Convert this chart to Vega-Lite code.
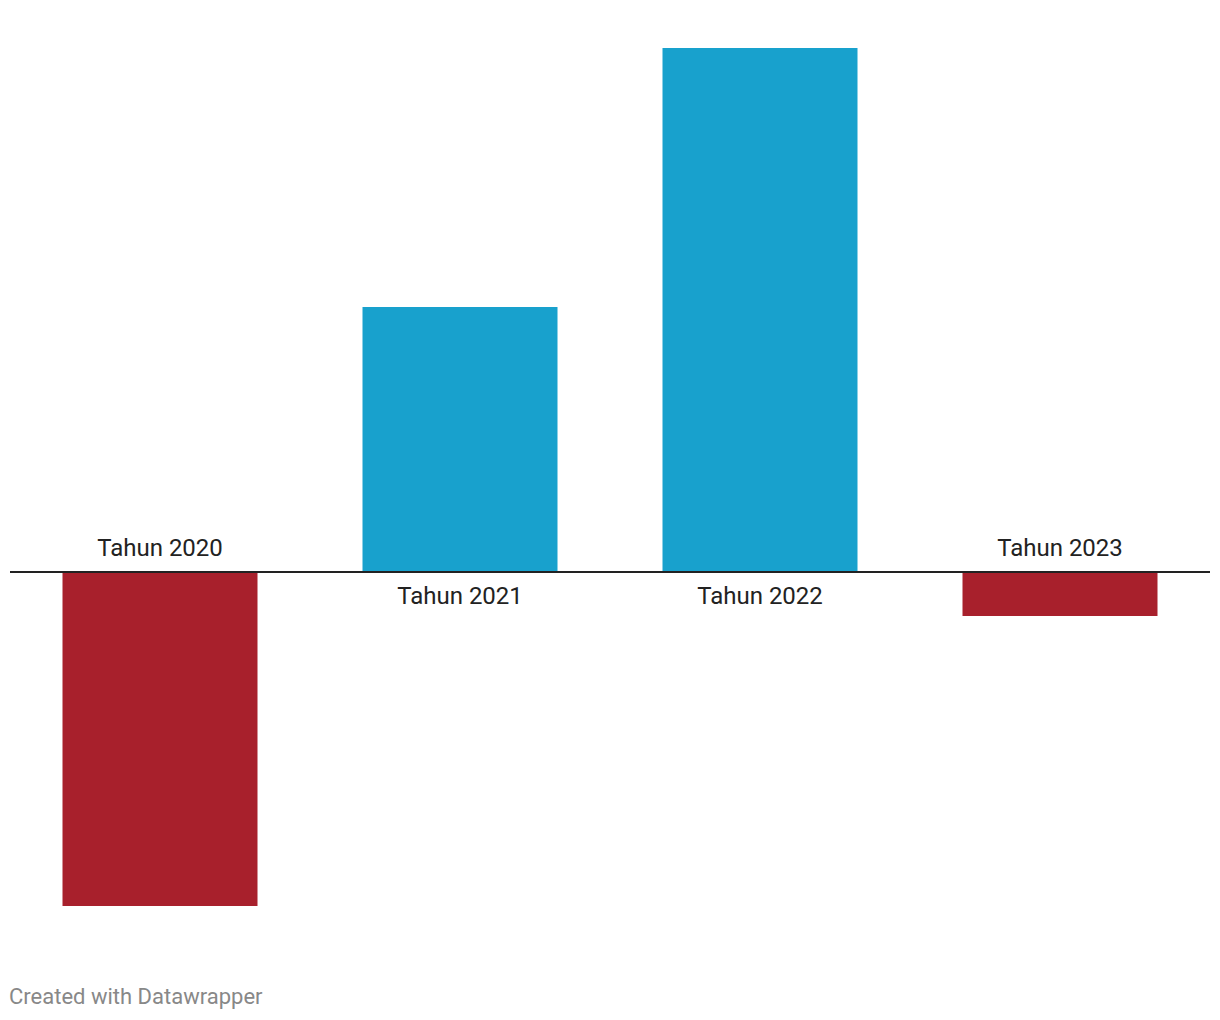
{
  "$schema": "https://vega.github.io/schema/vega-lite/v6.json",
  "autosize": "none",
  "width": 1200,
  "height": 858,
  "padding": {"left": 10, "top": 48, "right": 10, "bottom": 114},
  "background": "white",
  "config": {"view": {"stroke": null}, "font": "Roboto"},
  "title": {
    "text": "Created with Datawrapper",
    "orient": "bottom",
    "anchor": "start",
    "offset": 81,
    "fontSize": 22,
    "font": "Roboto",
    "fontWeight": "normal",
    "color": "#888888"
  },
  "data": {
    "values": [
      {"tahun": "Tahun 2020", "nilai": -3.34},
      {"tahun": "Tahun 2021", "nilai": 2.65},
      {"tahun": "Tahun 2022", "nilai": 5.24},
      {"tahun": "Tahun 2023", "nilai": -0.44}
    ]
  },
  "encoding": {
    "x": {
      "field": "tahun",
      "type": "nominal",
      "sort": null,
      "axis": null,
      "scale": {"paddingInner": 0.35, "paddingOuter": 0.175}
    }
  },
  "layer": [
    {
      "mark": {"type": "bar"},
      "encoding": {
        "y": {"field": "nilai", "type": "quantitative", "axis": null, "scale": {"domain": [-3.34, 5.24], "nice": false, "zero": true}},
        "color": {
          "condition": {"test": "datum.nilai < 0", "value": "#a8202c"},
          "value": "#18a1cd"
        }
      }
    },
    {
      "mark": {"type": "rule", "color": "#222222", "strokeWidth": 2},
      "encoding": {
        "y": {"datum": 0, "type": "quantitative"},
        "x": null
      }
    },
    {
      "transform": [{"filter": "datum.nilai < 0"}],
      "mark": {"type": "text", "fontSize": 24, "color": "#222222", "baseline": "middle", "dy": -23},
      "encoding": {
        "y": {"datum": 0, "type": "quantitative"},
        "text": {"field": "tahun"}
      }
    },
    {
      "transform": [{"filter": "datum.nilai >= 0"}],
      "mark": {"type": "text", "fontSize": 24, "color": "#222222", "baseline": "middle", "dy": 25},
      "encoding": {
        "y": {"datum": 0, "type": "quantitative"},
        "text": {"field": "tahun"}
      }
    }
  ]
}
